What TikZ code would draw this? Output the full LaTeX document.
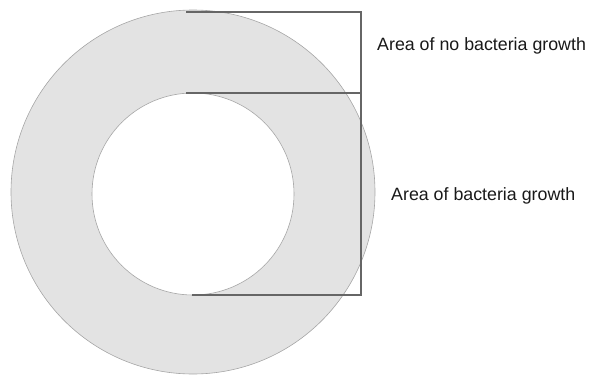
\documentclass[tikz,border=0pt]{standalone}
\usepackage{fontspec}
\setmainfont{Liberation Sans}
\begin{document}
\begin{tikzpicture}[x=1pt,y=-1pt,
  bracket/.style={draw=black!60, line width=2pt},
  lbl/.style={anchor=base west, inner sep=0pt, font=\fontsize{17.8}{20}\selectfont, text=black!90},
  dish/.style={circle, draw=black!35, line width=0.6pt, inner sep=0pt}]
\useasboundingbox (0,0) rectangle (590,375);
\node[dish, fill=black!11, minimum size=364pt] (outer) at (193,192) {};
\node[dish, fill=white, minimum size=202pt] (inner) at (193,194) {};
\coordinate (t1) at (186,12);
\coordinate (t2) at (361,12);
\coordinate (m1) at (186,93);
\coordinate (m2) at (361,93);
\coordinate (b1) at (192,295);
\coordinate (b2) at (361,295);
\draw[bracket] (t1) -- (t2) -- (m2) -- (m1);
\draw[bracket] (m2) -- (b2) -- (b1);
\node[lbl] (nogrowth) at (377,50) {Area of no bacteria growth};
\node[lbl] (growth) at (391,200) {Area of bacteria growth};
\end{tikzpicture}
\end{document}
